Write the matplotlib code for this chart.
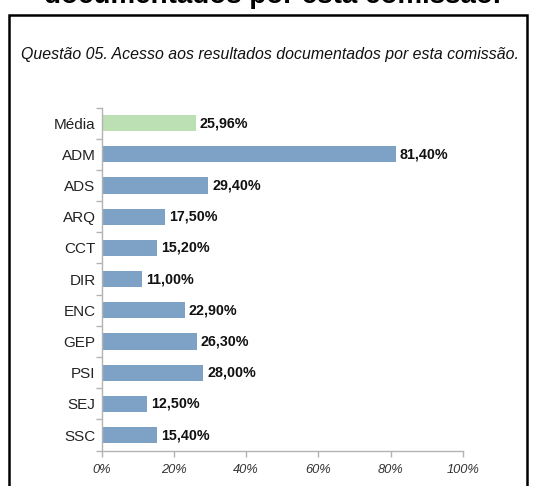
import matplotlib.pyplot as plt
from matplotlib.patches import Rectangle

# dados do gráfico
categorias = ["Média", "ADM", "ADS", "ARQ", "CCT", "DIR", "ENC", "GEP", "PSI", "SEJ", "SSC"]
valores = [25.96, 81.40, 29.40, 17.50, 15.20, 11.00, 22.90, 26.30, 28.00, 12.50, 15.40]
cores = ["#bcdfb3"] + ["#7ea2c6"] * 10
ticks_x = [0, 20, 40, 60, 80, 100]

plt.rcParams["font.family"] = ["Liberation Sans", "DejaVu Sans"]

fig = plt.figure(figsize=(5.36, 4.86), dpi=100)
ax = fig.add_axes([0.190, 0.0728, 0.6735, 0.706])

y = range(len(categorias))
ax.barh(y, valores, height=0.52, color=cores)
ax.set_ylim(len(categorias) - 0.5, -0.5)
ax.set_xlim(0, 100)

# rótulos com os valores
for i, v in enumerate(valores):
    txt = f"{v:.2f}".replace(".", ",") + "%"
    ax.annotate(txt, (v, i), xytext=(3, 0), textcoords="offset points",
                va="center", ha="left", fontsize=10.3, fontweight="bold", color="#111111")

ax.set_yticks(list(y))
ax.set_yticklabels(categorias, fontsize=11, color="#222222")
ax.set_yticks([i - 0.5 for i in range(len(categorias) + 1)], minor=True)
ax.tick_params(axis="y", which="major", length=0, pad=4.5)
ax.tick_params(axis="y", which="minor", length=4, color="#b3b3b3", width=1)

ax.set_xticks(ticks_x)
ax.set_xticklabels([f"{t}%" for t in ticks_x], fontsize=9.3, fontstyle="italic", color="#333333")
ax.tick_params(axis="x", length=4.5, color="#b3b3b3", width=1, pad=5)

for s in ["top", "right"]:
    ax.spines[s].set_visible(False)
for s in ["left", "bottom"]:
    ax.spines[s].set_color("#b3b3b3")
    ax.spines[s].set_linewidth(1)

# título da questão
fig.text(270 / 536, 1 - 55 / 486, "Questão 05. Acesso aos resultados documentados por esta comissão.",
         fontsize=11.4, fontstyle="italic", color="#111111", ha="center", va="center")

# título cortado no topo (de fora do quadro)
fig.text(272 / 536, 1 - 3 / 486, "documentados por esta comissão.", fontsize=20,
         fontweight="bold", color="black", ha="center", va="baseline")

# moldura preta
fig.patches.append(Rectangle((9 / 536, -0.05), 518 / 536, 1.05 - 15 / 486,
                             transform=fig.transFigure, fill=False,
                             edgecolor="black", linewidth=1.8))

fig.savefig("out.png", dpi=100)
